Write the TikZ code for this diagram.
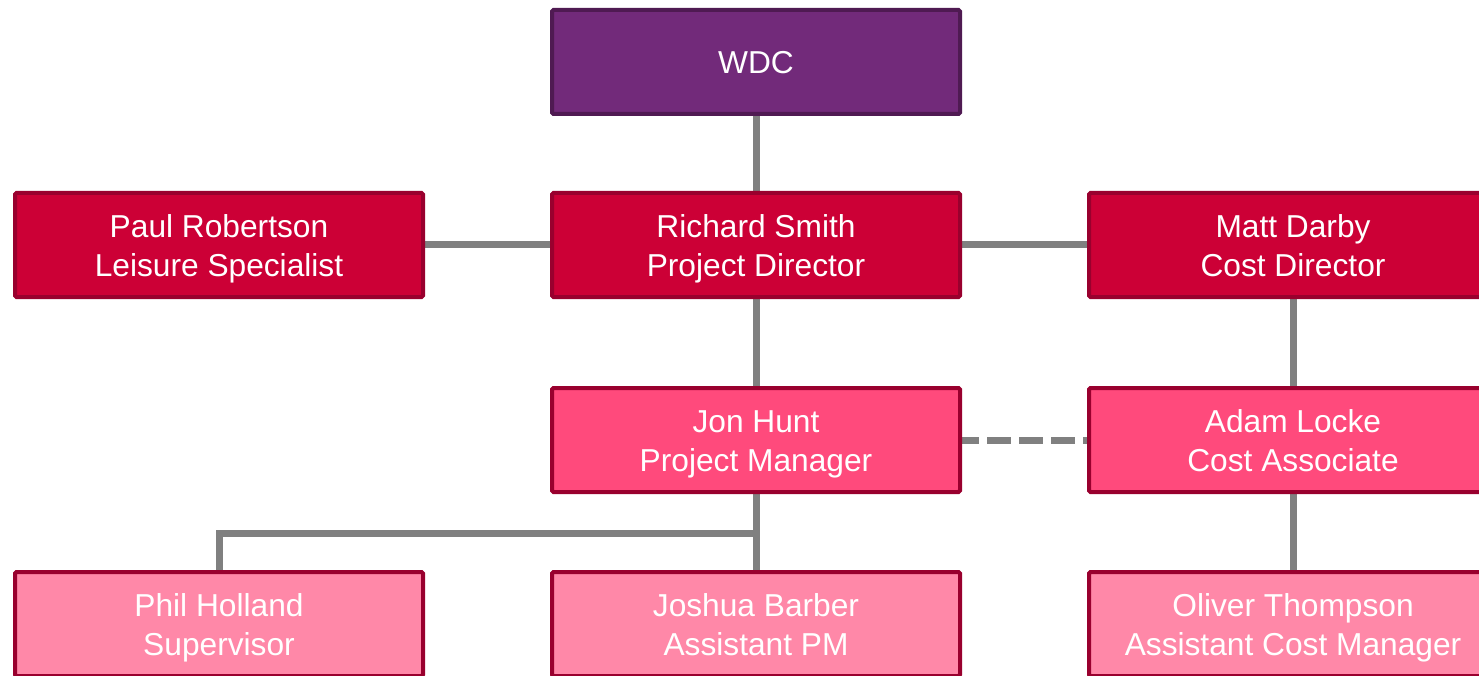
\documentclass[tikz,border=0pt]{standalone}
\usepackage{fontspec}
\setmainfont{Liberation Sans}
\usetikzlibrary{backgrounds}
\definecolor{wdcfill}{HTML}{722A7A}
\definecolor{wdcline}{HTML}{4F1A52}
\definecolor{lvtwofill}{HTML}{CC0036}
\definecolor{lvthreefill}{HTML}{FF4A7C}
\definecolor{lvfourfill}{HTML}{FF88A8}
\definecolor{boxline}{HTML}{99002E}
\definecolor{conn}{HTML}{808080}
\AtBeginDocument{\lineskiplimit=-100pt}
\newcommand\orgstrutA{\rule[-8pt]{0pt}{40pt}}
\newcommand\orgstrutB{\rule[-8pt]{0pt}{31pt}}
\newcommand\orgstrutC{\rule[-8pt]{0pt}{39pt}}
\newcommand\orgtext[2]{\orgstrutA #1\\\orgstrutB #2}
\tikzset{
  orgbox/.style={draw, line width=4pt, rounded corners=1.5pt, minimum width=408pt,
    minimum height=104pt, inner sep=0pt, outer sep=0pt, align=center, text=white,
    font=\fontsize{31.7}{39}\selectfont},
  topbox/.style={orgbox, fill=wdcfill, draw=wdcline},
  levtwo/.style={orgbox, fill=lvtwofill, draw=boxline},
  levthree/.style={orgbox, fill=lvthreefill, draw=boxline},
  levfour/.style={orgbox, fill=lvfourfill, draw=boxline},
  link/.style={draw=conn, line width=7pt},
  dashlink/.style={link, dash pattern=on 24pt off 8pt, dash phase=5pt}
}
\begin{document}
\begin{tikzpicture}[x=1pt,y=-1pt]
\clip (0,0) rectangle (1479,676);
\node[topbox] (wdc) at (756,62) {\orgstrutC WDC};
\node[levtwo] (paul) at (219,245) {\orgtext{Paul Robertson}{Leisure Specialist}};
\node[levtwo] (richard) at (756,245) {\orgtext{Richard Smith}{Project Director}};
\node[levtwo] (matt) at (1293,245) {\orgtext{Matt Darby}{Cost Director}};
\node[levthree] (jon) at (756,440) {\orgtext{Jon Hunt}{Project Manager}};
\node[levthree] (adam) at (1293,440) {\orgtext{Adam Locke}{Cost Associate}};
\node[levfour] (phil) at (219,624) {\orgtext{Phil Holland}{Supervisor}};
\node[levfour] (joshua) at (756,624) {\orgtext{Joshua Barber}{Assistant PM}};
\node[levfour] (oliver) at (1293,624) {\orgtext{Oliver Thompson}{Assistant Cost Manager}};
\coordinate (split) at (756,533);
\begin{scope}[on background layer]
\draw[link] (wdc.south) -- (richard.north);
\draw[link] (paul.east) -- (richard.west);
\draw[link] (richard.east) -- (matt.west);
\draw[link] (richard.south) -- (jon.north);
\draw[link] (matt.south) -- (adam.north);
\draw[link] (adam.south) -- (oliver.north);
\draw[link] (jon.south) -- (joshua.north);
\draw[link] (split) -| (phil.north);
\draw[dashlink] (jon.east) -- (adam.west);
\end{scope}
\end{tikzpicture}
\end{document}
